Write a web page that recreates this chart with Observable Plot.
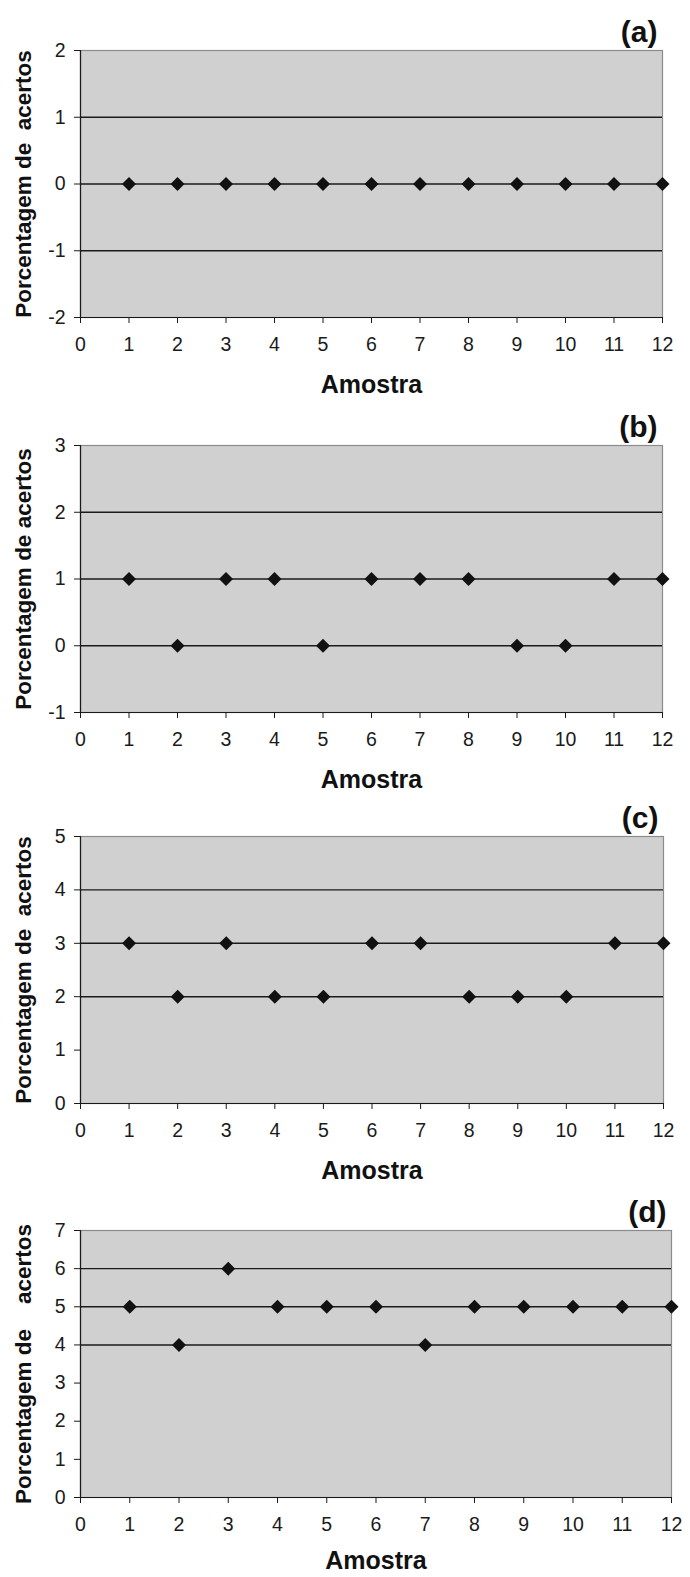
<!DOCTYPE html>
<html>
<head>
<meta charset="utf-8">
<script src="https://cdn.jsdelivr.net/npm/d3@7"></script>
<script src="https://cdn.jsdelivr.net/npm/@observablehq/plot@0.6"></script>
<style>
  body { margin: 0; background: #fff; }
  #wrap { position: relative; width: 690px; height: 1577px; overflow: hidden; background: #fff; }
  .panel { position: absolute; left: 0; background: transparent !important; }
  svg text { white-space: pre; }
  svg g[aria-label="x-axis tick label"], svg g[aria-label="y-axis tick label"] { font-size: 19.5px; }
</style>
</head>
<body>
<div id="wrap"></div>
<script>
// ---- data ----
const amostras = [1, 2, 3, 4, 5, 6, 7, 8, 9, 10, 11, 12];
const xTicks = [0, 1, 2, 3, 4, 5, 6, 7, 8, 9, 10, 11, 12];

const acertosA = [0, 0, 0, 0, 0, 0, 0, 0, 0, 0, 0, 0];
const acertosB = [1, 0, 1, 1, 0, 1, 1, 1, 0, 0, 1, 1];
const acertosC = [3, 2, 3, 2, 2, 3, 3, 2, 2, 2, 3, 3];
const acertosD = [5, 4, 6, 5, 5, 5, 4, 5, 5, 5, 5, 5];

const yTicksA = [-2, -1, 0, 1, 2];
const yTicksB = [-1, 0, 1, 2, 3];
const yTicksC = [0, 1, 2, 3, 4, 5];
const yTicksD = [0, 1, 2, 3, 4, 5, 6, 7];

const gridA = [-1, 0, 1];
const gridB = [0, 1, 2];
const gridC = [2, 3, 4];
const gridD = [4, 5, 6];

const panelLabels = ["(a)", "(b)", "(c)", "(d)"];
const yTitles = ["Porcentagem de  acertos", "Porcentagem de acertos", "Porcentagem de  acertos", "Porcentagem de    acertos"];
const xTitle = "Amostra";

// ---- layout ----
const panels = [
  {label: panelLabels[0], values: acertosA, ticks: yTicksA, grid: gridA, title: yTitles[0], top: 0,    marginRight: 28, titleDy: 67},
  {label: panelLabels[1], values: acertosB, ticks: yTicksB, grid: gridB, title: yTitles[1], top: 395,  marginRight: 28, titleDy: 67},
  {label: panelLabels[2], values: acertosC, ticks: yTicksC, grid: gridC, title: yTitles[2], top: 786,  marginRight: 27, titleDy: 67},
  {label: panelLabels[3], values: acertosD, ticks: yTicksD, grid: gridD, title: yTitles[3], top: 1180, marginRight: 19, titleDy: 63}
];

const font = "'Liberation Sans', Arial, Helvetica, sans-serif";
const wrap = document.getElementById("wrap");

for (const p of panels) {
  const data = amostras.map((a, i) => ({amostra: a, v: p.values[i]}));
  const yMin = d3.min(p.ticks), yMax = d3.max(p.ticks);

  const chart = Plot.plot({
    width: 690,
    height: 395,
    marginLeft: 80,
    marginRight: p.marginRight,
    marginTop: 50,
    marginBottom: 78,
    style: {fontFamily: font, fontSize: "19.5px", color: "#1a1a1a", background: "transparent", overflow: "visible"},
    x: {domain: [0, 12], ticks: xTicks},
    y: {domain: [yMin, yMax], ticks: p.ticks},
    marks: [
      Plot.frame({fill: "#d0d0d0", stroke: "#8c8c8c", strokeWidth: 1.2}),
      Plot.ruleY(p.grid, {stroke: "#1a1a1a", strokeWidth: 1.4}),
      Plot.ruleX([0], {stroke: "#1a1a1a", strokeWidth: 1.2}),
      Plot.ruleY([yMin], {stroke: "#1a1a1a", strokeWidth: 1.2}),
      Plot.axisX({ticks: xTicks, tickSize: 6, tickPadding: 14, fontSize: 19.5, label: null, tickFormat: d => String(d)}),
      Plot.axisY({ticks: p.ticks, tickSize: 6, tickPadding: 9, fontSize: 19.5, label: null, tickFormat: d => String(d)}),
      Plot.dot(data, {x: "amostra", y: "v", symbol: "diamond2", r: 6.3, fill: "#111", stroke: "none"}),
      Plot.text([p.label], {text: d => d, frameAnchor: "top-right", lineAnchor: "middle", dx: -5, dy: -18, fontSize: 30, fontWeight: "bold", textAnchor: "end", fill: "#111"}),
      Plot.text([p.title], {text: d => d, frameAnchor: "left", lineAnchor: "middle", dx: -57, rotate: -90, fontSize: 22.5, fontWeight: "bold", textAnchor: "middle", fill: "#111"}),
      Plot.text([xTitle], {text: d => d, frameAnchor: "bottom", lineAnchor: "middle", dy: p.titleDy, fontSize: 25, fontWeight: "bold", textAnchor: "middle", fill: "#111"})
    ]
  });
  chart.classList.add("panel");
  chart.style.top = p.top + "px";
  wrap.appendChild(chart);
}
</script>
</body>
</html>
